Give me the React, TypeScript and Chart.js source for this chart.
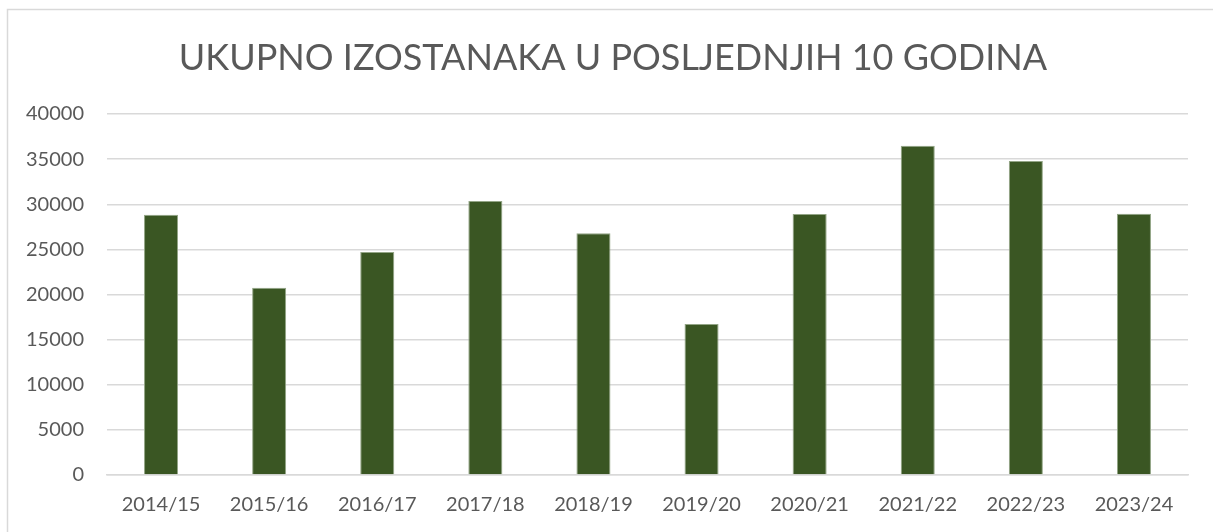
import React, { useEffect, useRef } from "react";
import { Chart, registerables } from "chart.js";

Chart.register(...registerables);

const TITLE = "UKUPNO IZOSTANAKA U POSLJEDNJIH 10 GODINA";
const categories = ["2014/15", "2015/16", "2016/17", "2017/18", "2018/19", "2019/20", "2020/21", "2021/22", "2022/23", "2023/24"];
const absences = [28830, 20750, 24710, 30360, 26780, 16730, 28920, 36490, 34790, 28950];
const yMin = 0;
const yMax = 40000;
const yStep = 5000;

const FONT = "Lato, 'Open Sans', sans-serif";
const TEXT_COLOR = "#595959";

export default function App() {
  const ref = useRef<HTMLCanvasElement | null>(null);

  useEffect(() => {
    document.body.style.margin = "0";
    document.body.style.overflow = "hidden";
    const canvas = ref.current;
    if (!canvas) return;

    const frame = {
      id: "frameAndTitle",
      beforeDraw(chart: any) {
        const ctx = chart.ctx;
        ctx.save();
        ctx.fillStyle = "#ffffff";
        ctx.fillRect(0, 0, chart.width, chart.height);
        ctx.strokeStyle = "#d9d9d9";
        ctx.lineWidth = 1.5;
        ctx.beginPath();
        ctx.moveTo(7.5, chart.height);
        ctx.lineTo(7.5, 9.5);
        ctx.lineTo(chart.width, 9.5);
        ctx.stroke();
        ctx.fillStyle = TEXT_COLOR;
        ctx.font = `36px ${FONT}`;
        ctx.textAlign = "center";
        ctx.textBaseline = "alphabetic";
        ctx.fillText(TITLE, 613, 70);
        ctx.restore();
      },
    };

    const chart = new Chart(canvas, {
      type: "bar",
      data: {
        labels: categories,
        datasets: [
          {
            label: "Izostanci",
            data: absences,
            backgroundColor: "#3A5623",
            borderColor: "#93a586",
            borderWidth: 1,
            barPercentage: 0.315,
            categoryPercentage: 1,
          },
        ],
      },
      options: {
        responsive: false,
        animation: false,
        maintainAspectRatio: false,
        layout: { padding: { left: 0, right: 25, top: 114, bottom: 0 } },
        plugins: {
          legend: { display: false },
          title: { display: false },
          tooltip: { enabled: false },
        },
        scales: {
          x: {
            grid: { display: false, drawTicks: false },
            border: { display: true, color: "#d9d9d9", width: 1.5 },
            ticks: {
              color: TEXT_COLOR,
              font: { family: FONT, size: 20 },
              padding: 18,
              maxRotation: 0,
              autoSkip: false,
            },
            afterFit(scale: any) {
              scale.height = 57;
            },
          },
          y: {
            min: yMin,
            max: yMax,
            grid: { color: "#d9d9d9", lineWidth: 1.5, drawTicks: false },
            border: { display: false },
            ticks: {
              stepSize: yStep,
              color: TEXT_COLOR,
              font: { family: FONT, size: 20 },
              padding: 23,
              callback: (v: any) => String(v),
            },
            afterFit(scale: any) {
              scale.width = 107;
            },
          },
        },
      },
      plugins: [frame],
    });

    return () => chart.destroy();
  }, []);

  return (
    <div style={{ width: 1213, height: 532 }}>
      <canvas ref={ref} width={1213} height={532} style={{ display: "block" }} />
    </div>
  );
}
